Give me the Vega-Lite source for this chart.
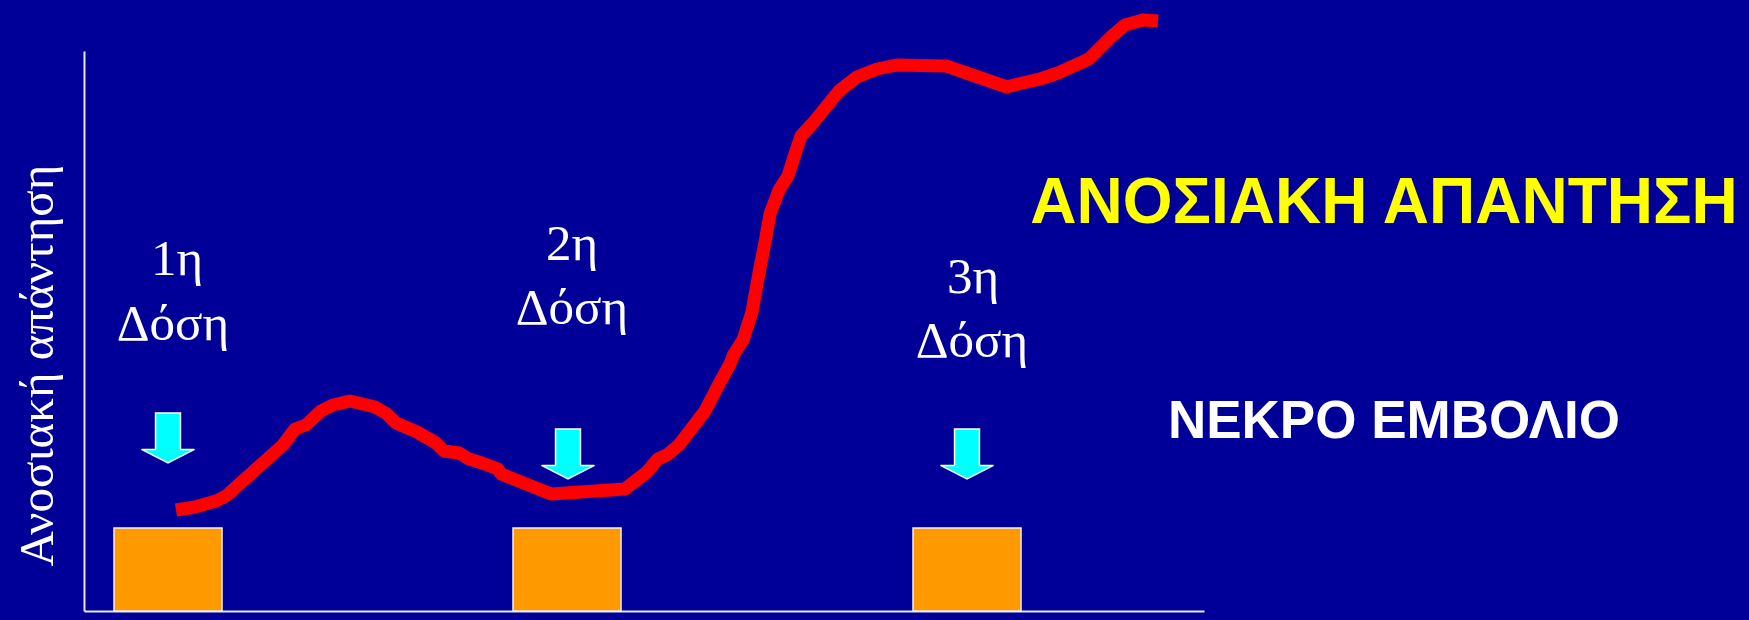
{
  "$schema": "https://vega.github.io/schema/vega-lite/v6.json",
  "width": 1120,
  "height": 560,
  "autosize": {"type": "none"},
  "padding": {"left": 84, "top": 51, "right": 545, "bottom": 9},
  "background": "#000099",
  "config": {
    "view": {"stroke": null},
    "axis": {"grid": false, "ticks": false, "labels": false, "domain": true, "domainColor": "#E6E6FF", "domainWidth": 2}
  },
  "datasets": {
    "boxes": [
      {"dose": "1η", "t": 3.0, "t2": 13.8, "r": 8.3},
      {"dose": "2η", "t": 42.9, "t2": 53.7, "r": 8.3},
      {"dose": "3η", "t": 82.9, "t2": 93.7, "r": 8.3}
    ],
    "curve": [
      {"t": 9.2, "r": 10.1}, {"t": 11.1, "r": 10.4}, {"t": 13.2, "r": 11.0}, {"t": 14.2, "r": 11.5},
      {"t": 19.9, "r": 16.6}, {"t": 21.1, "r": 18.2}, {"t": 22.2, "r": 18.6}, {"t": 23.7, "r": 20.0},
      {"t": 24.9, "r": 20.6}, {"t": 26.6, "r": 21.0}, {"t": 29.1, "r": 20.4}, {"t": 30.3, "r": 19.7},
      {"t": 31.2, "r": 18.8}, {"t": 33.3, "r": 17.9}, {"t": 35.2, "r": 16.8}, {"t": 36.0, "r": 16.0},
      {"t": 37.5, "r": 15.8}, {"t": 38.5, "r": 15.2}, {"t": 39.8, "r": 14.8}, {"t": 41.4, "r": 14.2},
      {"t": 41.7, "r": 13.7}, {"t": 46.7, "r": 11.7}, {"t": 54.1, "r": 12.2}, {"t": 56.3, "r": 13.9},
      {"t": 57.4, "r": 15.2}, {"t": 58.3, "r": 15.6}, {"t": 59.5, "r": 16.6}, {"t": 62.1, "r": 20.0},
      {"t": 63.5, "r": 22.7}, {"t": 64.6, "r": 24.7}, {"t": 65.0, "r": 25.7}, {"t": 65.9, "r": 27.1},
      {"t": 66.8, "r": 29.9}, {"t": 67.5, "r": 33.8}, {"t": 68.2, "r": 37.4}, {"t": 68.6, "r": 39.7},
      {"t": 69.5, "r": 42.1}, {"t": 70.4, "r": 43.5}, {"t": 71.1, "r": 45.7}, {"t": 71.7, "r": 47.5},
      {"t": 72.9, "r": 48.8}, {"t": 74.2, "r": 50.4}, {"t": 75.5, "r": 52.0}, {"t": 77.3, "r": 53.4},
      {"t": 79.3, "r": 54.2}, {"t": 81.3, "r": 54.6}, {"t": 86.2, "r": 54.5}, {"t": 92.3, "r": 52.4},
      {"t": 93.4, "r": 52.7}, {"t": 95.6, "r": 53.2}, {"t": 97.4, "r": 53.8}, {"t": 100.5, "r": 55.2},
      {"t": 102.8, "r": 57.5}, {"t": 104.1, "r": 58.6}, {"t": 105.9, "r": 59.1}, {"t": 107.4, "r": 59.0}
    ],
    "arrows": [
      {"dose": "1η", "t": 8.4, "r": 17.3},
      {"dose": "2η", "t": 48.4, "r": 15.7},
      {"dose": "3η", "t": 88.3, "r": 15.7}
    ],
    "labels": [
      {"text": "1η", "t": 9.3, "r": 33.6},
      {"text": "Δόση", "t": 8.9, "r": 27.1},
      {"text": "2η", "t": 48.8, "r": 35.1},
      {"text": "Δόση", "t": 48.8, "r": 28.7},
      {"text": "3η", "t": 88.9, "r": 31.8},
      {"text": "Δόση", "t": 88.8, "r": 25.4}
    ],
    "headline": [
      {"text": "ΑΝΟΣΙΑΚΗ ΑΠΑΝΤΗΣΗ", "t": 130.0, "r": 38.8}
    ],
    "subhead": [
      {"text": "ΝΕΚΡΟ ΕΜΒΟΛΙΟ", "t": 131.0, "r": 17.3}
    ]
  },
  "encoding": {
    "x": {"field": "t", "type": "quantitative", "scale": {"domain": [0, 112], "nice": false, "zero": false}, "axis": {"title": null}},
    "y": {
      "field": "r", "type": "quantitative", "scale": {"domain": [0, 56], "nice": false, "zero": false},
      "axis": {
        "title": "Ανοσιακή απάντηση", "titleFont": "Liberation Serif", "titleFontSize": 49,
        "titleFontWeight": "normal", "titleColor": "white", "titleAngle": -90,
        "titleX": -32, "titleY": 314, "titleAlign": "center", "titleBaseline": "alphabetic"
      }
    }
  },
  "layer": [
    {
      "data": {"name": "boxes"},
      "mark": {"type": "rect", "fill": "#FF9900", "stroke": "#F2F2F2", "strokeWidth": 1.5},
      "encoding": {
        "x2": {"field": "t2"},
        "y2": {"datum": 0}
      }
    },
    {
      "data": {"name": "curve"},
      "mark": {"type": "line", "color": "#FF0000", "strokeWidth": 13, "strokeJoin": "round", "strokeCap": "butt"}
    },
    {
      "data": {"name": "arrows"},
      "mark": {
        "type": "point", "filled": true, "opacity": 1,
        "shape": "M -0.47 -0.94 L 0.47 -0.94 L 0.47 0.43 L 1 0.43 L 0 0.94 L -1 0.43 L -0.47 0.43 Z",
        "size": 2809, "fill": "#00FFFF", "stroke": "#FFFFFF", "strokeWidth": 1.5
      }
    },
    {
      "data": {"name": "labels"},
      "mark": {"type": "text", "font": "Liberation Serif", "fontSize": 51, "color": "white", "align": "center", "baseline": "alphabetic"},
      "encoding": {"text": {"field": "text"}}
    },
    {
      "data": {"name": "headline"},
      "mark": {"type": "text", "font": "Liberation Sans", "fontWeight": "bold", "fontSize": 64, "color": "#FFFF00", "align": "center", "baseline": "alphabetic"},
      "encoding": {"text": {"field": "text"}}
    },
    {
      "data": {"name": "subhead"},
      "mark": {"type": "text", "font": "Liberation Sans", "fontWeight": "bold", "fontSize": 53, "color": "#FFFFFF", "align": "center", "baseline": "alphabetic"},
      "encoding": {"text": {"field": "text"}}
    }
  ]
}
